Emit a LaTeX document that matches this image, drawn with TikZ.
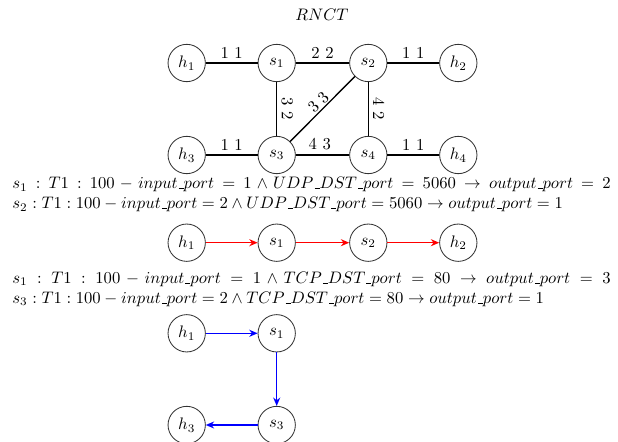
\documentclass[tikz,border=0pt]{standalone}
\usetikzlibrary{arrows.meta}
\newcommand\usc{\kern.06em\vbox{\hrule width.3em}}
\begin{document}
\begin{tikzpicture}[x=0.6pt,y=-0.6pt,
  host/.style={circle,draw=black!80,line width=0.5pt,minimum size=22.4pt,inner sep=0pt},
  link/.style={line width=0.8pt,black},
  lbl/.style={above,sloped,inner sep=2.5pt},
  rule/.style={anchor=north west,text width=359pt,align=justify,inner sep=0pt},
  redarr/.style={line width=0.9pt,red,-{Stealth[length=5pt,width=4.2pt,inset=1.6pt]}},
  bluearr/.style={line width=0.9pt,blue,-{Stealth[length=5pt,width=4.2pt,inset=1.6pt]}}]
\useasboundingbox (0,0) rectangle (618,442);
\node (title) at (322,15) {$RNCT$};
% top graph
\node[host] (h1) at (186.7,63) {$h_1$};
\node[host] (s1) at (276.7,63) {$s_1$};
\node[host] (s2) at (368.3,63) {$s_2$};
\node[host] (h2) at (458.3,63) {$h_2$};
\node[host] (h3) at (186.7,155) {$h_3$};
\node[host] (s3) at (276.7,155) {$s_3$};
\node[host] (s4) at (368.3,155) {$s_4$};
\node[host] (h4) at (458.3,155) {$h_4$};
\draw[link] (h1) -- node[lbl] {1 1} (s1);
\draw[link] (s1) -- node[lbl] {2 2} (s2);
\draw[link] (s2) -- node[lbl] {1 1} (h2);
\draw[link] (h3) -- node[lbl] {1 1} (s3);
\draw[link] (s3) -- node[lbl,pos=0.45] {4 3} (s4);
\draw[link] (s4) -- node[lbl] {1 1} (h4);
\draw[link] (s1) -- node[lbl] {3 2} (s3);
\draw[link] (s3) -- node[lbl,inner sep=0.8pt,pos=0.52] {3 3} (s2);
\draw[link] (s2) -- node[lbl] {4 2} (s4);
% first rule block
\node[rule] (rule1) at (12,177)
 {$s_1 : T1 : 100 - input\usc port = 1 \wedge UDP\usc DST\usc port = 5060 \rightarrow output\usc port = 2$\linebreak
  $s_2 : T1 : 100 - input\usc port = 2 \wedge UDP\usc DST\usc port = 5060 \rightarrow output\usc port = 1$};
% red path
\node[host] (rh1) at (186.7,242.7) {$h_1$};
\node[host] (rs1) at (276.7,242.7) {$s_1$};
\node[host] (rs2) at (368.3,242.7) {$s_2$};
\node[host] (rh2) at (458.3,242.7) {$h_2$};
\draw[redarr] (rh1) -- (rs1);
\draw[redarr] (rs1) -- (rs2);
\draw[redarr] (rs2) -- (rh2);
% second rule block
\node[rule] (rule2) at (12,271.5)
 {$s_1 : T1 : 100 - input\usc port = 1 \wedge TCP\usc DST\usc port = 80 \rightarrow output\usc port = 3$\linebreak
  $s_3 : T1 : 100 - input\usc port = 2 \wedge TCP\usc DST\usc port = 80 \rightarrow output\usc port = 1$};
% blue path
\node[host] (bh1) at (186.7,333.3) {$h_1$};
\node[host] (bs1) at (276.7,333.3) {$s_1$};
\node[host] (bs3) at (276.7,425) {$s_3$};
\node[host] (bh3) at (186.7,425) {$h_3$};
\draw[bluearr] (bh1) -- (bs1);
\draw[bluearr] (bs1) -- (bs3);
\draw[bluearr] (bs3) -- (bh3);
\end{tikzpicture}
\end{document}
